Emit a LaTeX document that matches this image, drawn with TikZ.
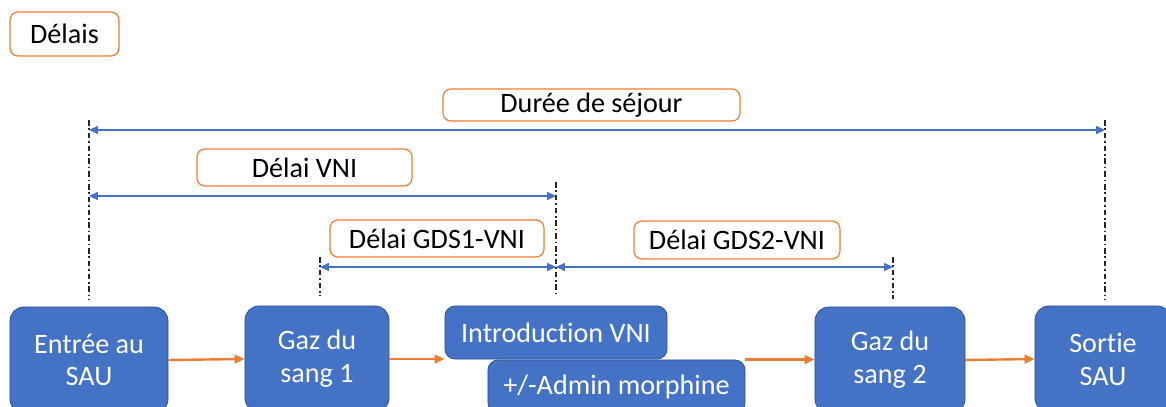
\documentclass[tikz,border=0pt]{standalone}
\usepackage{fontspec}
\setmainfont{Carlito}[Ligatures=NoCommon]
\usetikzlibrary{arrows.meta}
\definecolor{etapebleu}{HTML}{4472C4}
\definecolor{etapebord}{HTML}{2F528F}
\definecolor{delaiorange}{HTML}{ED7D31}
\tikzset{
  etape/.style={draw=etapebord, fill=etapebleu, text=white, line width=0.02cm,
    rounded corners=0.35cm, align=center, inner sep=0pt,
    font=\fontsize{20}{23.4}\selectfont},
  delai/.style={draw=delaiorange, fill=white, line width=0.03cm,
    rounded corners=0.2cm, inner sep=0pt, font=\fontsize{20}{23.4}\selectfont},
  repere/.style={draw=black!85, line width=0.03cm, dash pattern=on 0.14cm off 0.07cm on 0.04cm off 0.07cm},
  duree/.style={draw=etapebleu, line width=0.035cm,
    {Triangle[length=0.22cm,width=0.2cm]}-{Triangle[length=0.22cm,width=0.2cm]}},
  flux/.style={draw=delaiorange, line width=0.06cm,
    -{Triangle[length=0.25cm,width=0.22cm]}}
}
\begin{document}
\begin{tikzpicture}[x=0.025cm,y=-0.025cm]
                    \useasboundingbox (0,0) rectangle (1166,407);
                    \clip (0,0) rectangle (1166,407);
                    
                    % Drawing step boxes
                    \node [etape, minimum width=3.95cm, minimum height=2.65cm] (entree) at (89,360) {Entrée au\\SAU};%
                    \node [etape, minimum width=3.6cm, minimum height=2.65cm] (gds1) at (317,359) {Gaz du\\sang 1};%
                    \node [etape, minimum width=5.55cm, minimum height=1.325cm, rounded corners=0.25cm] (vni) at (556,332.5) {Introduction VNI};%
                    \node [etape, minimum width=6.425cm, minimum height=1.325cm, rounded corners=0.25cm] (morphine) at (616.5,386.5) {+/-Admin morphine};%
                    \node [etape, minimum width=3.75cm, minimum height=2.65cm] (gds2) at (890,360) {Gaz du\\sang 2};%
                    \node [etape, minimum width=3.4cm, minimum height=2.65cm] (sortie) at (1103,359) {Sortie\\SAU};%
                    
                    % Drawing flow arrows
                    \draw [flux] (entree.east) -- (gds1.west);%
                    \draw [flux] (gds1.east) -- (gds1.east -| vni.west);%
                    \draw [flux] (morphine.north east) -- (morphine.north east -| gds2.west);%
                    \draw [flux] (gds2.east) -- (sortie.west);%
                    
                    % Drawing reference lines
                    \coordinate (entreeHaut) at (89,120);%
                    \coordinate (entreeBas) at (89,300);%
                    \coordinate (vniHaut) at (556,182);%
                    \coordinate (vniBas) at (556,297);%
                    \coordinate (gds1Haut) at (320,257);%
                    \coordinate (gds1Bas) at (320,296);%
                    \coordinate (gds2Haut) at (893,257);%
                    \coordinate (gds2Bas) at (893,299);%
                    \coordinate (sortieHaut) at (1105,120);%
                    \coordinate (sortieBas) at (1105,300);%
                    \draw [repere] (entreeHaut) -- (entreeBas);%
                    \draw [repere] (vniHaut) -- (vniBas);%
                    \draw [repere] (gds1Haut) -- (gds1Bas);%
                    \draw [repere] (gds2Haut) -- (gds2Bas);%
                    \draw [repere] (sortieHaut) -- (sortieBas);%
                    
                    % Drawing delay arrows
                    \draw [duree] (entreeHaut |- 0,130) -- (sortieHaut |- 0,130);%
                    \draw [duree] (entreeHaut |- 0,196) -- (vniHaut |- 0,196);%
                    \draw [duree] (gds1Haut |- 0,267) -- (vniHaut |- 0,267);%
                    \draw [duree] (vniHaut |- 0,267) -- (gds2Haut |- 0,267);%
                    
                    % Marking delay labels
                    \node [delai, minimum width=2.725cm, minimum height=1.1cm] (titre) at (64.5,34) {Délais};%
                    \node [delai, minimum width=7.425cm, minimum height=0.8cm] (sejour) at (591.5,105) {Durée de séjour};%
                    \node [delai, minimum width=5.375cm, minimum height=0.925cm] (delaiVNI) at (304.5,167.5) {Délai VNI};%
                    \node [delai, minimum width=5.35cm, minimum height=0.925cm] (delaiGDSun) at (437,238.5) {Délai GDS1-VNI};%
                    \node [delai, minimum width=5.15cm, minimum height=0.95cm] (delaiGDSdeux) at (737,240) {Délai GDS2-VNI};%
\end{tikzpicture}
\end{document}
